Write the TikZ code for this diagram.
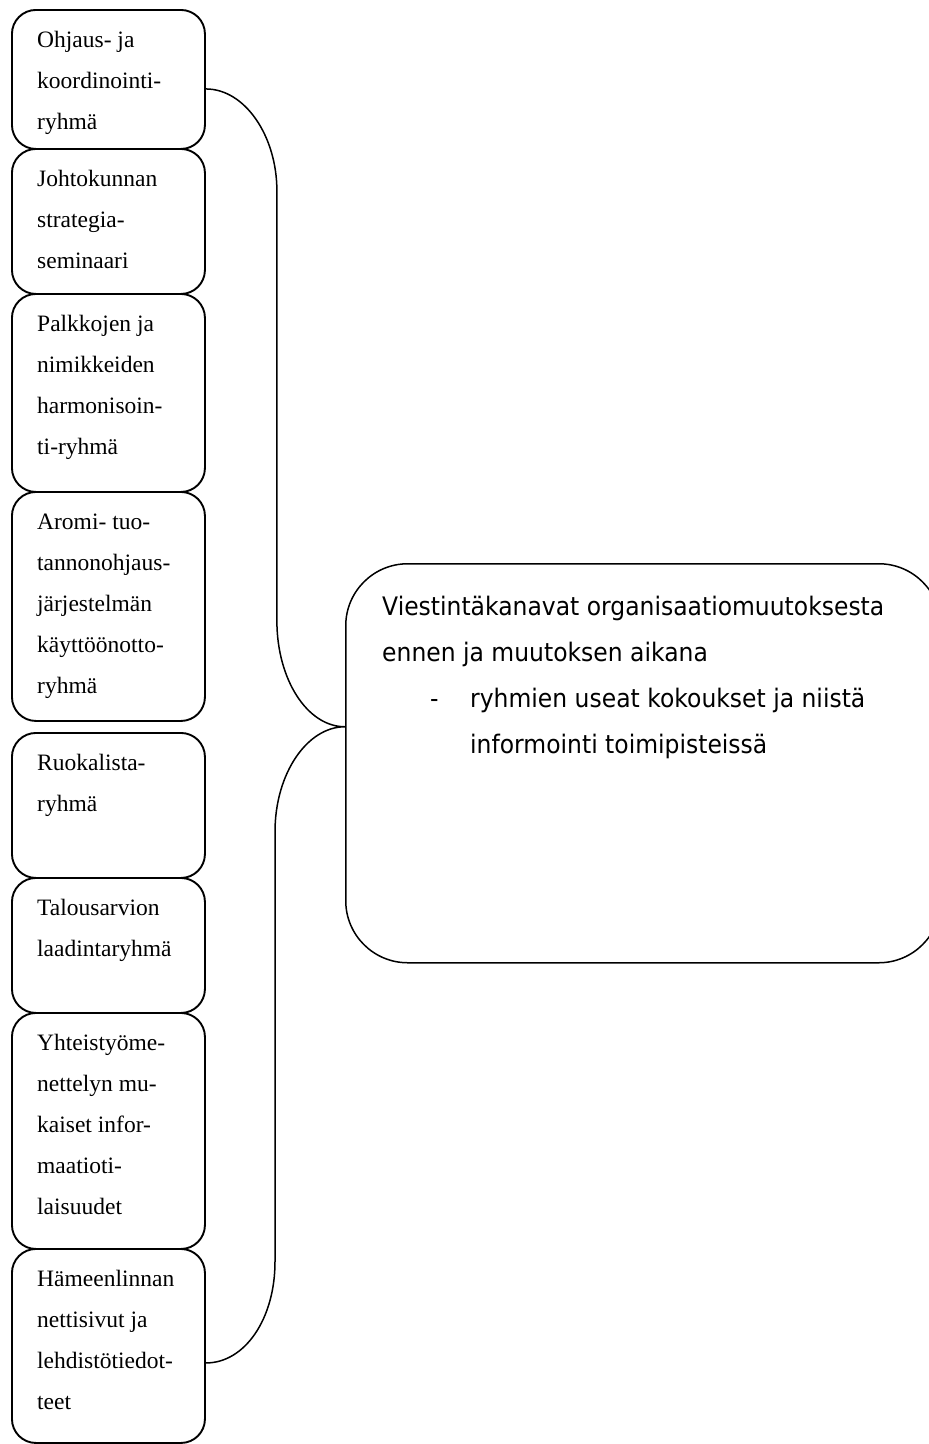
\documentclass[tikz,border=0pt]{standalone}
\usepackage{fontspec}
\setmainfont{Liberation Serif}
\newfontfamily\viestintafont[FakeStretch=0.92]{DejaVu Sans}
\usetikzlibrary{positioning}

\tikzset{
  ryhmalaatikko/.style={draw, line width=1.9pt, rounded corners=24pt, minimum width=193pt, inner sep=0pt},
  ryhmateksti/.style={anchor=north west, align=left, inner sep=0pt, font=\fontsize{23.5}{41}\selectfont},
  kanavalaatikko/.style={draw, line width=1.5pt, rounded corners=62pt, minimum width=595pt, minimum height=399pt, inner sep=0pt},
  kanavateksti/.style={align=left, inner sep=0pt, font=\viestintafont\fontsize{25.5}{46}\selectfont},
  sulku/.style={line width=1.5pt}
}

\newcommand{\ryhma}[4]{% name, top, bottom, text
\node[ryhmalaatikko, minimum height=#3-#2, anchor=north west] (#1) at (11,#2) {};
\node[ryhmateksti, below right=9.3pt and 26pt of #1.north west] (#1teksti) {\strut #4};
}

\begin{document}
\begin{tikzpicture}[x=1pt,y=-1pt]
\path[use as bounding box, clip] (0,0) rectangle (929,1444);

%%%%%
\ryhma{ohjaus}{9}{148}{Ohjaus- ja\\koordinointi-\\ryhmä}
\ryhma{johto}{148}{293}{Johtokunnan\\strategia-\\seminaari}
\ryhma{palkat}{293}{491}{Palkkojen ja\\nimikkeiden\\harmonisoin-\\ti-ryhmä}
\ryhma{aromi}{491}{720}{Aromi- tuo-\\tannonohjaus-\\järjestelmän\\käyttöönotto-\\ryhmä}
\ryhma{ruoka}{732}{877}{Ruokalista-\\ryhmä}
\ryhma{talous}{877}{1012}{Talousarvion\\laadintaryhmä}
\ryhma{yhteis}{1012}{1248}{Yhteistyöme-\\nettelyn mu-\\kaiset infor-\\maatioti-\\laisuudet}
\ryhma{nettisivut}{1248}{1442}{Hämeenlinnan\\nettisivut ja\\lehdistötiedot-\\teet}

%%%%%
\node[kanavalaatikko, anchor=north west] (kanavat) at (345,563) {};
\node[kanavateksti, below right=19.8pt and 37pt of kanavat.north west] (kanavatteksti)
  {\strut Viestintäkanavat organisaatiomuutoksesta\\
   ennen ja muutoksen aikana\\
   \makebox[88pt][l]{\hspace*{48pt}-}ryhmien useat kokoukset ja niistä\\
   \hspace*{88pt}informointi toimipisteissä};

%%%%%
\draw[sulku] ([yshift=-9.5pt]ohjaus.east) .. controls +(39,0) and +(0,-55) .. ++(71,102)
  -- ++(0,430) .. controls +(0,58) and +(-38,0) .. ([yshift=36.5pt]kanavat.west) coordinate (karki)
  .. controls +(-38,0) and +(0,-58) .. ++(-70,105) -- ++(0,430)
  .. controls +(0,57) and +(39,0) .. ([yshift=-17pt]nettisivut.east);

\end{tikzpicture}
\end{document}
